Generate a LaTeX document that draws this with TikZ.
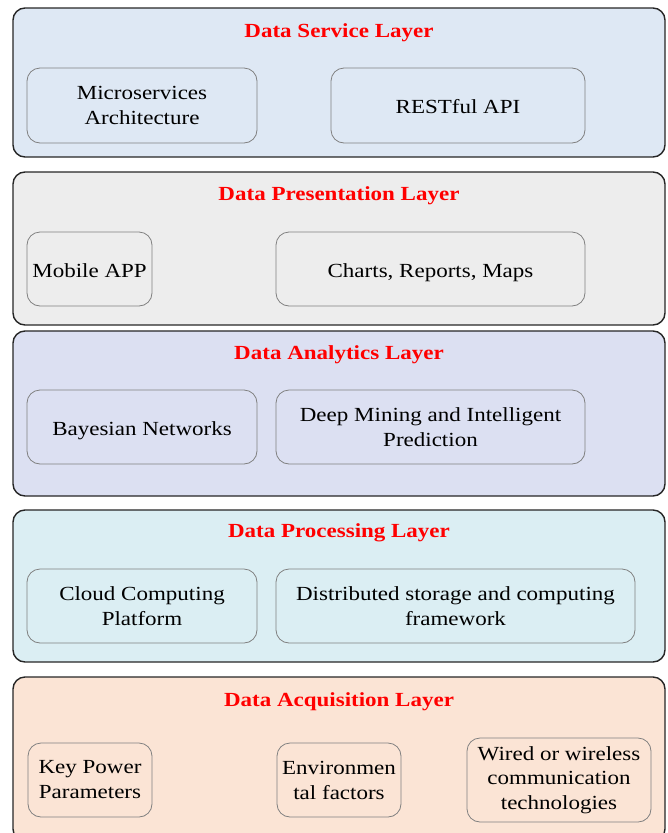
\documentclass[tikz,border=0pt]{standalone}
\usepackage{fontspec}
\setmainfont{Liberation Serif}[FakeStretch=1.15]
\definecolor{cServ}{HTML}{DEE8F4}
\definecolor{cPres}{HTML}{EDEDED}
\definecolor{cAna}{HTML}{DCE0F2}
\definecolor{cProc}{HTML}{DBEEF3}
\definecolor{cAcq}{HTML}{FBE4D5}
\definecolor{cEdge}{HTML}{262626}
\definecolor{cInner}{HTML}{808080}
\tikzset{
  layer/.style={draw=cEdge, line width=1.4pt, rounded corners=12pt, minimum width=652pt, inner sep=0pt},
  ltitle/.style={text=red, font=\fontsize{20}{25}\selectfont\bfseries, inner sep=0pt},
  item/.style={draw=cInner, line width=0.8pt, rounded corners=13pt, minimum height=74pt, inner sep=0pt, align=center, font=\fontsize{20}{25}\selectfont},
  one/.style={text height=18pt, text depth=2pt}
}
\begin{document}
\begin{tikzpicture}[x=1pt,y=-1pt]
\useasboundingbox (0,0) rectangle (667,833);
% Data Service Layer
\node[layer, fill=cServ, minimum height=149pt] (L1) at (339,82.5) {};
\node[ltitle] (T1) at (339,33) {Data Service Layer};
\node[item, minimum width=230pt, minimum height=75pt] (s1) at (142,105.5) {Microservices\\Architecture};
\node[item, one, minimum width=254pt, minimum height=75pt] (s2) at (458,105.5) {RESTful API};
% Data Presentation Layer
\node[layer, fill=cPres, minimum height=153pt] (L2) at (339,248.5) {};
\node[ltitle] (T2) at (339,196) {Data Presentation Layer};
\node[item, one, minimum width=125pt] (p1) at (89.5,269) {Mobile APP};
\node[item, one, minimum width=309pt] (p2) at (430.5,269) {Charts, Reports, Maps};
% Data Analytics Layer
\node[layer, fill=cAna, minimum height=165pt] (L3) at (339,413.5) {};
\node[ltitle] (T3) at (339,355) {Data Analytics Layer};
\node[item, one, minimum width=230pt] (a1) at (142,427) {Bayesian Networks};
\node[item, minimum width=309pt] (a2) at (430.5,427) {Deep Mining and Intelligent\\Prediction};
% Data Processing Layer
\node[layer, fill=cProc, minimum height=152pt] (L4) at (339,586) {};
\node[ltitle] (T4) at (339,533) {Data Processing Layer};
\node[item, minimum width=230pt] (d1) at (142,606) {Cloud Computing\\Platform};
\node[item, minimum width=359pt] (d2) at (455.5,606) {Distributed storage and computing\\framework};
% Data Acquisition Layer
\node[layer, fill=cAcq, minimum height=164pt] (L5) at (339,759) {};
\node[ltitle] (T5) at (339,702) {Data Acquisition Layer};
\node[item, minimum width=124pt] (q1) at (90,780) {Key Power\\Parameters};
\node[item, minimum width=124pt] (q2) at (339,780) {Environmen\\tal factors};
\node[item, minimum width=184pt, minimum height=84pt, font=\fontsize{20}{24.5}\selectfont] (q3) at (559,780) {Wired or wireless\\communication\\technologies};
\end{tikzpicture}
\end{document}
